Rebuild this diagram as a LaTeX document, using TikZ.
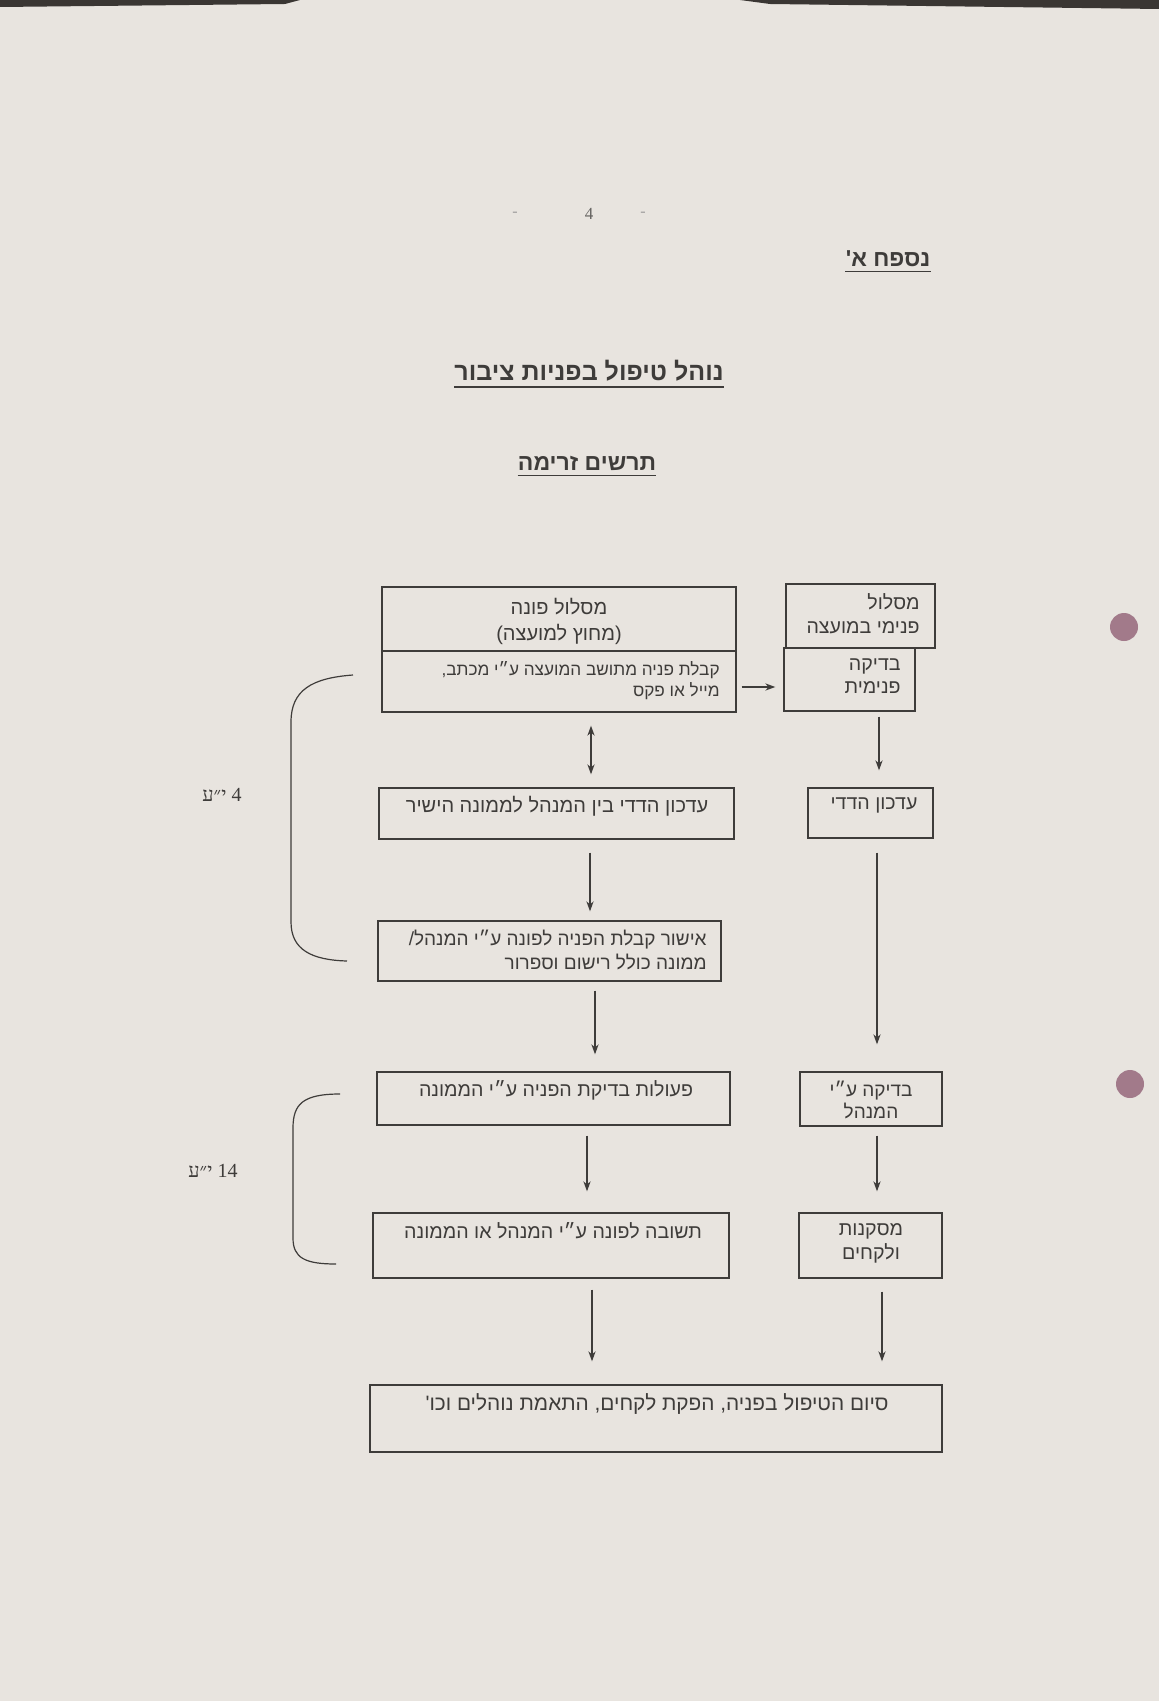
\documentclass[tikz,border=0pt]{standalone}
\usepackage{fontspec}
\setmainfont{Liberation Serif}
\newfontfamily\heb[Script=Hebrew]{Liberation Sans}
\newfontfamily\hebserif[Script=Hebrew]{Liberation Serif}
\TeXXeTstate=1
\usetikzlibrary{arrows.meta,calc}
\definecolor{paper}{HTML}{E8E4DF}
\definecolor{ink}{HTML}{3E3C3A}
\definecolor{dotc}{HTML}{A27A8A}
\definecolor{edge}{HTML}{3A3633}
\newcommand{\hb}[1]{\beginR #1\endR}
\tikzset{
  box/.style={draw=ink, line width=0.7pt, inner sep=0pt, fill=none},
  txt/.style={font=\heb\fontsize{9.5}{11}\selectfont, text=ink, inner sep=0pt},
  head/.style={font=\heb\bfseries\fontsize{11.5}{13}\selectfont, text=ink, inner sep=0pt},
  ul/.style={draw=ink, line width=0.6pt},
  arr/.style={draw=ink, line width=0.6pt, -{Stealth[length=5pt,width=3.6pt]}},
  dbl/.style={draw=ink, line width=0.6pt, {Stealth[length=5pt,width=3.6pt]}-{Stealth[length=5pt,width=3.6pt]}},
  brace/.style={draw=ink, line width=0.6pt},
  lbl/.style={font=\hebserif\fontsize{10}{12}\selectfont, text=ink, inner sep=0pt}
}
\begin{document}
\begin{tikzpicture}[x=0.5pt,y=-0.5pt]
\useasboundingbox (0,0) rectangle (1159,1701);
\fill[paper] (0,0) rectangle (1159,1701);
\fill[edge] (0,0) -- (300,0) -- (285,4) -- (0,7) -- cycle;
\fill[edge] (740,0) -- (1159,0) -- (1159,9) -- (770,4) -- cycle;
\fill[dotc] (1124,627) circle (7pt);
\fill[dotc] (1130,1084) circle (7pt);

% page number and headings
\node[font=\fontsize{8.5}{9}\selectfont, text=ink!80] (pg) at (589,214) {4};
\node[font=\fontsize{8}{9}\selectfont, text=ink!50] (pgl) at (515,214) {-};
\node[font=\fontsize{8}{9}\selectfont, text=ink!50] (pgr) at (643,214) {-};

\node[head] (annex) at (888,259) {\hb{נספח א'}};
\draw[ul] ($(annex.south west)+(0,4)$) -- ($(annex.south east)+(0,4)$);
\node[head, font=\heb\bfseries\fontsize{12.5}{14}\selectfont] (title) at (589,371) {\hb{נוהל טיפול בפניות ציבור}};
\draw[ul] ($(title.south west)+(0,5)$) -- ($(title.south east)+(0,5)$);
\node[head] (sub) at (587,463) {\hb{תרשים זרימה}};
\draw[ul] ($(sub.south west)+(0,5)$) -- ($(sub.south east)+(0,5)$);

% boxes
\node[box, minimum width=177pt, minimum height=62.5pt] (b1) at (559,649.5) {};
\coordinate (d1) at (0,651);
\draw[box] (b1.west |- d1) -- (b1.east |- d1);
\node[box, minimum width=74.5pt, minimum height=32pt] (rtop) at (860.5,616) {};
\node[box, minimum width=65.5pt, minimum height=31.5pt] (rbot) at (849.5,679.5) {};
\node[box, minimum width=177.5pt, minimum height=25.5pt] (b2) at (556.5,813.5) {};
\node[box, minimum width=62.5pt, minimum height=25pt] (r2) at (870.5,813) {};
\node[box, minimum width=171.5pt, minimum height=30pt] (b3) at (549.5,951) {};
\node[box, minimum width=176.5pt, minimum height=26.5pt] (b4) at (553.5,1098.5) {};
\node[box, minimum width=71pt, minimum height=27pt] (r4) at (871,1099) {};
\node[box, minimum width=178pt, minimum height=32.5pt] (b5) at (551,1245.5) {};
\node[box, minimum width=71.5pt, minimum height=32.5pt] (r5) at (870.5,1245.5) {};
\node[box, minimum width=286pt, minimum height=33.5pt] (bf) at (656,1418.5) {};

% texts
\node[txt, align=center, font=\heb\fontsize{10}{11}\selectfont] (t1a) at (559,621) {\hb{מסלול פונה}\\[2pt]\hb{(מחוץ למועצה)}};
\node[txt, align=right, anchor=north east, font=\heb\fontsize{8.6}{10.8}\selectfont] (t1b) at (720,661) {\hb{קבלת פניה מתושב המועצה ע״י מכתב,}\\\hb{מייל או פקס}};
\node[txt, align=right, anchor=north east, font=\heb\fontsize{9.8}{12}\selectfont] (trt) at (920,593) {\hb{מסלול}\\\hb{פנימי במועצה}};
\node[txt, align=right, anchor=north east, font=\heb\fontsize{9.8}{11.5}\selectfont] (trb) at (901,658) {\hb{בדיקה}\\\hb{פנימית}};
\node[txt, font=\heb\fontsize{10}{12}\selectfont] (t2) at (557,806) {\hb{עדכון הדדי בין המנהל לממונה הישיר}};
\node[txt, font=\heb\fontsize{9.8}{12}\selectfont] (tr2) at (874,805) {\hb{עדכון הדדי}};
\node[txt, align=right, anchor=north east, font=\heb\fontsize{9.5}{12}\selectfont] (t3) at (707,930) {\hb{אישור קבלת הפניה לפונה ע״י המנהל/}\\\hb{ממונה כולל רישום וספרור}};
\node[txt, font=\heb\fontsize{9.8}{12}\selectfont] (t4) at (556,1090) {\hb{פעולות בדיקת הפניה ע״י הממונה}};
\node[txt, align=center, font=\heb\fontsize{9.5}{11}\selectfont] (tr4) at (871,1100) {\hb{בדיקה ע״י}\\\hb{המנהל}};
\node[txt, font=\heb\fontsize{9.8}{12}\selectfont] (t5) at (553,1231) {\hb{תשובה לפונה ע״י המנהל או הממונה}};
\node[txt, align=center, font=\heb\fontsize{9.8}{12}\selectfont] (tr5) at (871,1243) {\hb{מסקנות}\\\hb{ולקחים}};
\node[txt, font=\heb\fontsize{10.4}{12}\selectfont] (tf) at (657,1404) {\hb{סיום הטיפול בפניה, הפקת לקחים, התאמת נוהלים וכו'}};

% arrows
\coordinate (xa) at (591,0);
\coordinate (ya) at (0,687);
\coordinate (xb) at (879,0);
\coordinate (xc) at (590,0);
\coordinate (xd) at (877,0);
\coordinate (xe) at (595,0);
\coordinate (xf) at (587,0);
\coordinate (xg) at (592,0);
\coordinate (xh) at (882,0);
\draw[dbl, shorten <=6.5pt, shorten >=6.5pt] (b1.south -| xa) -- (b2.north -| xa);
\draw[arr, shorten <=2.5pt, shorten >=4pt] (b1.east |- ya) -- (rbot.west |- ya);
\draw[arr, shorten <=2.5pt, shorten >=8.5pt] (rbot.south -| xb) -- (r2.north -| xb);
\draw[arr, shorten <=6.5pt, shorten >=4.5pt] (b2.south -| xc) -- (b3.north -| xc);
\draw[arr, shorten <=7pt, shorten >=13.5pt] (r2.south -| xd) -- (r4.north -| xd);
\draw[arr, shorten <=4.5pt, shorten >=8.5pt] (b3.south -| xe) -- (b4.north -| xe);
\draw[arr, shorten <=5pt, shorten >=10.5pt] (b4.south -| xf) -- (b5.north -| xf);
\draw[arr, shorten <=4.5pt, shorten >=10.5pt] (r4.south -| xd) -- (r5.north -| xd);
\draw[arr, shorten <=5.5pt, shorten >=11.5pt] (b5.south -| xg) -- (bf.north -| xg);
\draw[arr, shorten <=6.5pt, shorten >=11.5pt] (r5.south -| xh) -- (bf.north -| xh);

% brackets
\draw[brace] (353,675) .. controls (312,678) and (291,690) .. (291,722) -- (291,922) .. controls (291,950) and (312,960) .. (347,961);
\draw[brace] (340,1094) .. controls (303,1094) and (293,1104) .. (293,1128) -- (293,1238) .. controls (293,1258) and (305,1264) .. (336,1264);
\node[lbl] (l1) at (222,795) {\hb{4 י״ע}};
\node[lbl] (l2) at (213,1171) {\hb{14 י״ע}};
\end{tikzpicture}
\end{document}
